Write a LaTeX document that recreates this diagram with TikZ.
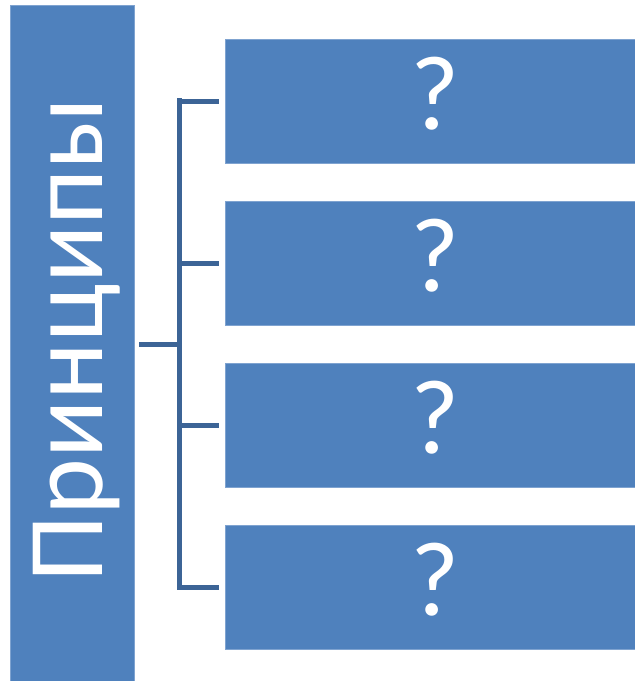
\documentclass[tikz,border=0pt]{standalone}
\usepackage{fontspec}
\setmainfont{Carlito}
\begin{document}
\begin{tikzpicture}[x=1pt,y=-1pt,
  blk/.style={fill=boxblue,draw=boxedge,line width=1pt,inner sep=0pt},
  conn/.style={draw=linkblue,line width=5pt},
  qtext/.style={text=white,font=\fontsize{106}{106}\selectfont}]
\definecolor{boxblue}{HTML}{4F81BD}
\definecolor{boxedge}{HTML}{7FA3D0}
\definecolor{linkblue}{HTML}{3C6496}
\useasboundingbox (0,0) rectangle (635,681);
\fill[white] (0,0) rectangle (635,681);
\draw[blk] (10,5) rectangle (134,690);
\node[text=white,rotate=90,font=\fontsize{108}{108}\selectfont,inner sep=0pt] (main) at (77,340) {Принципы};
\foreach \i/\t in {1/39,2/201,3/363,4/525}{
  \draw[blk] (225,\t) rectangle (640,\t+124);
  \node[qtext] (q\i) at (435,\t+55) {?};
  \coordinate (b\i) at (179.5,\t+62);
  \coordinate (e\i) at (219,\t+62);
}
\coordinate (stem) at (139,344);
\coordinate (mid) at (179.5,344);
\draw[conn] (179.5,98) -- (179.5,590);
\draw[conn] ([xshift=-2.5pt]b1) -- (e1);
\draw[conn] ([xshift=-2.5pt]b2) -- (e2);
\draw[conn] ([xshift=-2.5pt]b3) -- (e3);
\draw[conn] ([xshift=-2.5pt]b4) -- (e4);
\draw[conn] (stem) -- (mid);
\end{tikzpicture}
\end{document}
